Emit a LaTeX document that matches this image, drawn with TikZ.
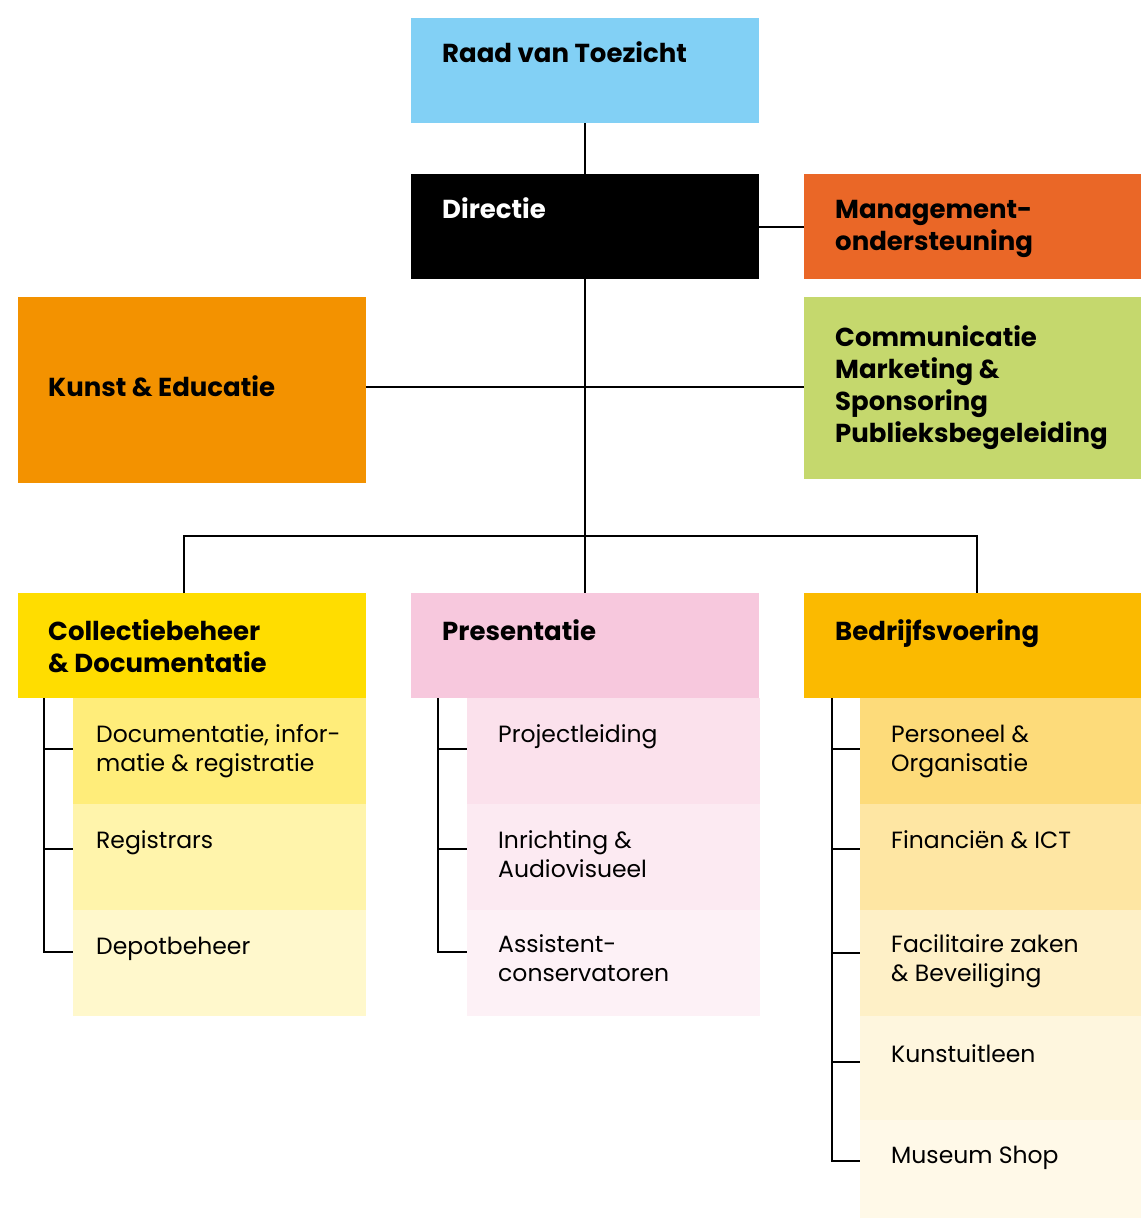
\documentclass[tikz,border=0pt]{standalone}
\usepackage{fontspec}
\setmainfont{Poppins}
\definecolor{raadblue}{HTML}{82D0F5}
\definecolor{mgmtorange}{HTML}{EA6727}
\definecolor{commgreen}{HTML}{C5D86D}
\definecolor{kunstorange}{HTML}{F39200}
\definecolor{collyellow}{HTML}{FFDD00}
\definecolor{prespink}{HTML}{F7C8DD}
\definecolor{bedrgold}{HTML}{FBBA00}
\begin{document}
\begin{tikzpicture}[x=1pt,y=-1pt,
		box/.style 2 args={anchor=north west,inner sep=0,minimum width=#1,minimum height=#2},
		head/.style={anchor=base west,inner sep=0,align=left,font=\bfseries\fontsize{26}{32}\selectfont},
		sub/.style={anchor=base west,inner sep=0,align=left,font=\fontsize{23.5}{29}\selectfont},
		link/.style={draw=black,line width=2.4pt}]
		\useasboundingbox (0,0) rectangle (1141,1218);
		\node[box={348}{105},fill=raadblue] (raad) at (411,18) {};
		\node[box={348}{105},fill=black] (directie) at (411,174) {};
		\node[box={337}{105},fill=mgmtorange] (mgmt) at (804,174) {};
		\node[box={337}{182},fill=commgreen] (comm) at (804,297) {};
		\node[box={348}{186},fill=kunstorange] (kunst) at (18,297) {};
		\node[box={348}{105},fill=collyellow] (coll) at (18,593) {};
		\node[box={348}{105},fill=prespink] (pres) at (411,593) {};
		\node[box={337}{105},fill=bedrgold] (bedr) at (804,593) {};
		\node[box={293}{106},fill=collyellow!52] (doc) at (73,698) {};
		\node[box={293}{106},fill=collyellow!33] (reg) at (73,804) {};
		\node[box={293}{106},fill=collyellow!20] (depot) at (73,910) {};
		\node[box={293}{106},fill=prespink!55] (proj) at (467,698) {};
		\node[box={293}{106},fill=prespink!38] (inr) at (467,804) {};
		\node[box={293}{106},fill=prespink!25] (assist) at (467,910) {};
		\node[box={281}{106},fill=bedrgold!52] (pers) at (860,698) {};
		\node[box={281}{106},fill=bedrgold!36] (fin) at (860,804) {};
		\node[box={281}{106},fill=bedrgold!22] (fac) at (860,910) {};
		\node[box={281}{104},fill=bedrgold!13] (uitleen) at (860,1016) {};
		\node[box={281}{98},fill=bedrgold!9] (shop) at (860,1120) {};

		\node[head] (raad-t) at ([xshift=31,yshift=-44.5]raad.north west) {Raad van Toezicht};
		\node[head,text=white] (directie-t) at ([xshift=31,yshift=-44.5]directie.north west) {Directie};
		\node[head] (mgmt-t) at ([xshift=31,yshift=-76.5]mgmt.north west) {Management-\\ondersteuning};
		\node[head] (comm-t) at ([xshift=31,yshift=-145.5]comm.north west) {Communicatie\\Marketing \&\\Sponsoring\\Publieksbegeleiding};
		\node[head] (kunst-t) at ([xshift=30,yshift=-6.5]kunst.west) {Kunst \& Educatie};
		\node[head] (coll-t) at ([xshift=30,yshift=-79.5]coll.north west) {Collectiebeheer\\\& Documentatie};
		\node[head] (pres-t) at ([xshift=31,yshift=-47.5]pres.north west) {Presentatie};
		\node[head] (bedr-t) at ([xshift=31,yshift=-47.5]bedr.north west) {Bedrijfsvoering};
		\node[sub] (doc-t) at ([xshift=23,yshift=-73]doc.north west) {Documentatie, infor-\\matie \& registratie};
		\node[sub] (reg-t) at ([xshift=23,yshift=-44]reg.north west) {Registrars};
		\node[sub] (depot-t) at ([xshift=23,yshift=-44]depot.north west) {Depotbeheer};
		\node[sub] (proj-t) at ([xshift=31,yshift=-44]proj.north west) {Projectleiding};
		\node[sub] (inr-t) at ([xshift=31,yshift=-73]inr.north west) {Inrichting \&\\Audiovisueel};
		\node[sub] (assist-t) at ([xshift=31,yshift=-71]assist.north west) {Assistent-\\conservatoren};
		\node[sub] (pers-t) at ([xshift=31,yshift=-73]pers.north west) {Personeel \&\\Organisatie};
		\node[sub] (fin-t) at ([xshift=31,yshift=-44]fin.north west) {Financiën \& ICT};
		\node[sub] (fac-t) at ([xshift=31,yshift=-71]fac.north west) {Facilitaire zaken\\\& Beveiliging};
		\node[sub] (uitleen-t) at ([xshift=31,yshift=-46]uitleen.north west) {Kunstuitleen};
		\node[sub] (shop-t) at ([xshift=31,yshift=-43]shop.north west) {Museum Shop};

		\draw[link] (raad) -- (directie);
		\draw[link] (directie) -- (mgmt);
		\draw[link] (directie.south) -- (pres.north);
		\draw[link] ([yshift=3]kunst.east) -- ([yshift=3]kunst.east -| comm.west);
		\coordinate (bus) at (584,536);
		\draw[link] ([xshift=-8]coll.north) |- (bus) -| ([xshift=4]bedr.north);
		\coordinate (coll-spine) at ([xshift=26]coll.south west);
		\coordinate (pres-spine) at ([xshift=27]pres.south west);
		\coordinate (bedr-spine) at ([xshift=28]bedr.south west);
		\draw[link] (coll-spine) |- ([yshift=-51]doc.north west);
		\draw[link] (coll-spine) |- ([yshift=-45]reg.north west);
		\draw[link] (coll-spine) |- ([yshift=-42]depot.north west);
		\draw[link] (pres-spine) |- ([yshift=-51]proj.north west);
		\draw[link] (pres-spine) |- ([yshift=-45]inr.north west);
		\draw[link] (pres-spine) |- ([yshift=-42]assist.north west);
		\draw[link] (bedr-spine) |- ([yshift=-51]pers.north west);
		\draw[link] (bedr-spine) |- ([yshift=-45]fin.north west);
		\draw[link] (bedr-spine) |- ([yshift=-43]fac.north west);
		\draw[link] (bedr-spine) |- ([yshift=-46]uitleen.north west);
		\draw[link] (bedr-spine) |- ([yshift=-41]shop.north west);
\end{tikzpicture}
\end{document}
